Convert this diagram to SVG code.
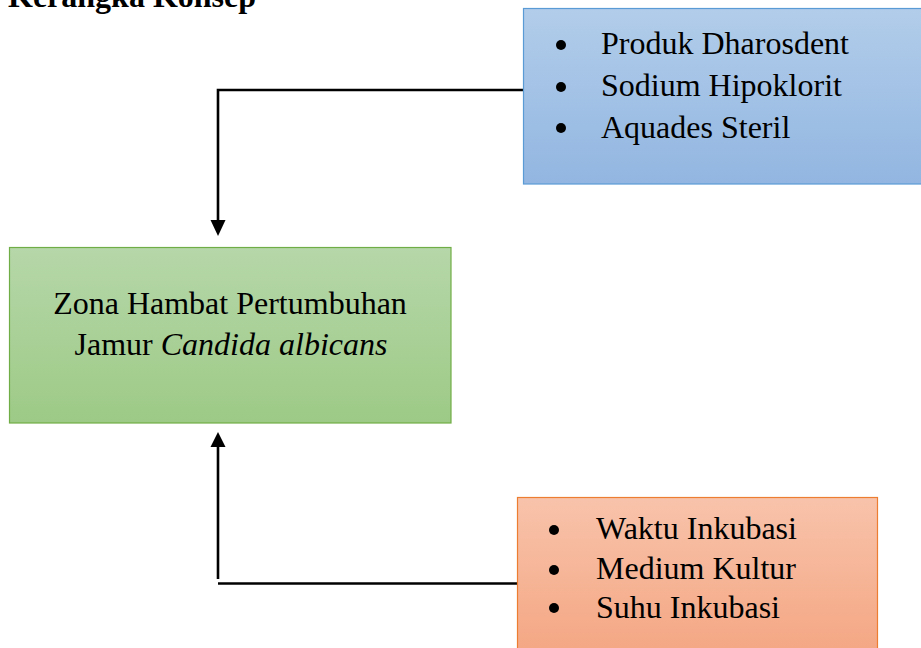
<svg xmlns="http://www.w3.org/2000/svg" width="921" height="648" viewBox="0 0 921 648">
<style>
text{font-family:"Liberation Serif","Times New Roman",serif;font-size:32px;fill:#000}
.conn{stroke:#000;stroke-width:2.6;fill:none}
.bul{fill:#000}
</style>
<defs>
<linearGradient id="gb" x1="0" y1="0" x2="0" y2="1"><stop offset="0" stop-color="#b2cdea"/><stop offset="1" stop-color="#92b6e1"/></linearGradient>
<linearGradient id="gg" x1="0" y1="0" x2="0" y2="1"><stop offset="0" stop-color="#b6d7a9"/><stop offset="1" stop-color="#9dca86"/></linearGradient>
<linearGradient id="go" x1="0" y1="0" x2="0" y2="1"><stop offset="0" stop-color="#f8c3ab"/><stop offset="1" stop-color="#f4a682"/></linearGradient>
<marker id="ah" markerWidth="6" markerHeight="6" refX="6" refY="3" orient="auto" markerUnits="strokeWidth"><path d="M0,0 L6,3 L0,6 Z" fill="#000"/></marker>
</defs>
<text x="8" y="7" font-weight="bold">Kerangka Konsep</text>
<g id="connectors">
<path class="conn" d="M523,90 H218 V221"/>
<path d="M210.5,220 L225.5,220 L218,236 Z" fill="#000"/>
<path class="conn" d="M517,583.5 H218"/>
<path class="conn" d="M218,579 V446"/>
<path d="M210.5,447 L225.5,447 L218,432 Z" fill="#000"/>
</g>
<g id="node-blue">
<rect x="523.5" y="8.5" width="410" height="175.5" fill="url(#gb)" stroke="#5b9bd5" stroke-width="1.2"/>
<circle class="bul" cx="561" cy="45" r="5"/>
<circle class="bul" cx="561" cy="87" r="5"/>
<circle class="bul" cx="561" cy="128" r="5"/>
<text x="601" y="54">Produk Dharosdent</text>
<text x="601" y="96">Sodium Hipoklorit</text>
<text x="601" y="138">Aquades Steril</text>
</g>
<g id="node-green">
<rect x="9.5" y="247.5" width="441.5" height="175.5" fill="url(#gg)" stroke="#70ad47" stroke-width="1.2"/>
<text x="230" y="314" text-anchor="middle">Zona Hambat Pertumbuhan</text>
<text x="231" y="355" text-anchor="middle">Jamur <tspan font-style="italic">Candida albicans</tspan></text>
</g>
<g id="node-orange">
<rect x="517.5" y="497.5" width="360" height="160" fill="url(#go)" stroke="#ed7d31" stroke-width="1.2"/>
<circle class="bul" cx="554" cy="530" r="5"/>
<circle class="bul" cx="554" cy="570" r="5"/>
<circle class="bul" cx="554" cy="608" r="5"/>
<text x="596" y="539">Waktu Inkubasi</text>
<text x="596" y="579">Medium Kultur</text>
<text x="596" y="618">Suhu Inkubasi</text>
</g>
</svg>
